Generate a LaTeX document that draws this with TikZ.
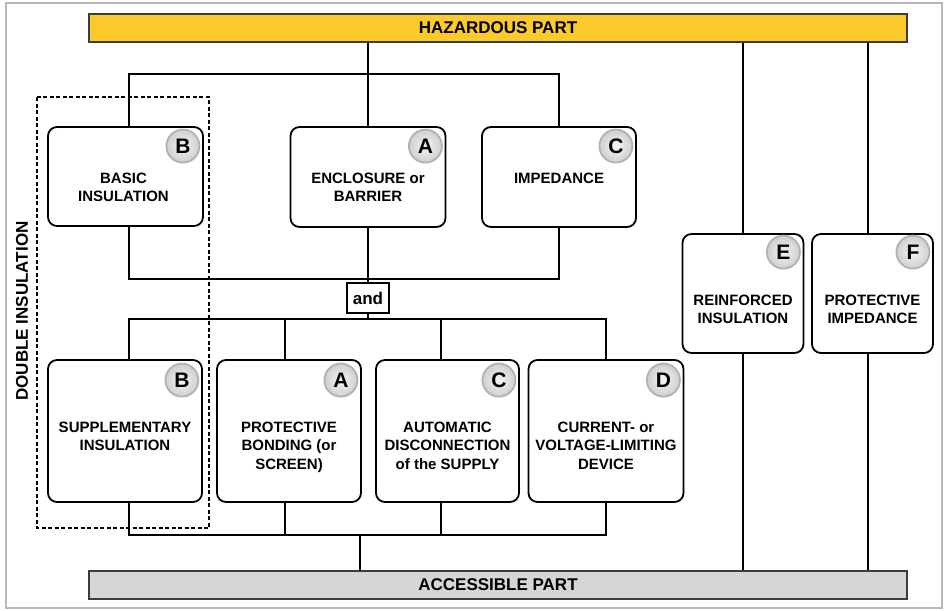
\documentclass[tikz,border=0pt]{standalone}
\usepackage{fontspec}
\setmainfont{Liberation Sans}
\usetikzlibrary{calc}
\definecolor{hazy}{RGB}{252,203,43}
\definecolor{accg}{RGB}{213,215,212}
\definecolor{barline}{RGB}{60,60,60}
\tikzset{
  pbox/.style={draw=black, line width=1.8pt, rounded corners=9pt, fill=white, inner sep=0pt},
  ptext/.style={anchor=north, inner sep=0pt, align=center, font=\bfseries\fontsize{15}{18.5}\selectfont},
  badge/.style={circle, minimum size=33pt, inner sep=0pt, draw=gray!60, line width=1.8pt,
    inner color=gray!8, outer color=gray!38, font=\bfseries\fontsize{21}{21}\selectfont},
  bar/.style={draw=barline, line width=1.3pt, inner sep=0pt, minimum width=818pt, minimum height=28pt,
    font=\bfseries\fontsize{17}{17}\selectfont},
  conn/.style={line width=1.8pt, black},
}
\begin{document}
\begin{tikzpicture}[x=1pt,y=-1pt]
\useasboundingbox (0,0) rectangle (944,610);
\draw[gray!55, line width=1.5pt] (6,3) rectangle (942,608);

% bars
\node[bar, fill=hazy] (haz) at (498,28) {HAZARDOUS PART};
\node[bar, fill=accg] (acc) at (498,585) {ACCESSIBLE PART};

% dashed double insulation frame
\draw[line width=1.8pt, dash pattern=on 4pt off 2.5pt] (37,97) rectangle (209,528);
\node[rotate=90, inner sep=0pt, font=\bfseries\fontsize{17}{17}\selectfont] (dbl) at (22,311) {DOUBLE INSULATION};

% top row boxes
\node[pbox, minimum width=155pt, minimum height=99pt] (basic) at (125.5,176.5) {};
\node[pbox, minimum width=155pt, minimum height=100pt] (enc) at (368,177) {};
\node[pbox, minimum width=154pt, minimum height=100pt] (imp) at (559,177) {};
% right boxes
\node[pbox, minimum width=121pt, minimum height=119pt] (rein) at (743,293.5) {};
\node[pbox, minimum width=121pt, minimum height=119pt] (pimp) at (872.5,293.5) {};
% lower row
\node[pbox, minimum width=154pt, minimum height=142pt] (supp) at (125,431) {};
\node[pbox, minimum width=144pt, minimum height=142pt] (prot) at (289,431) {};
\node[pbox, minimum width=143pt, minimum height=142pt] (auto) at (447.5,431) {};
\node[pbox, minimum width=155pt, minimum height=142pt] (dev) at (606,431) {};

% and box
\node[draw=black, line width=1.8pt, fill=white, minimum width=42pt, minimum height=30pt, inner sep=0pt,
  font=\bfseries\fontsize{17}{17}\selectfont] (and) at (368,298) {and};

% texts
\node[ptext] (tbasic) at ($(basic.north)+(-2,46.5)$) {BASIC\\INSULATION};
\node[ptext] (tenc) at ($(enc.north)+(0,46.5)$) {ENCLOSURE or\\BARRIER};
\node[ptext] (timp) at ($(imp.north)+(0,46.5)$) {IMPEDANCE};
\node[ptext] (trein) at ($(rein.north)+(0,61.5)$) {REINFORCED\\INSULATION};
\node[ptext] (tpimp) at ($(pimp.north)+(0,61.5)$) {PROTECTIVE\\IMPEDANCE};
\node[ptext] (tsupp) at ($(supp.north)+(0,62.5)$) {SUPPLEMENTARY\\INSULATION};
\node[ptext] (tprot) at ($(prot.north)+(0,62.5)$) {PROTECTIVE\\BONDING (or\\SCREEN)};
\node[ptext] (tauto) at ($(auto.north)+(0,62.5)$) {AUTOMATIC\\DISCONNECTION\\of the SUPPLY};
\node[ptext] (tdev) at ($(dev.north)+(0,62.5)$) {CURRENT- or\\VOLTAGE-LIMITING\\DEVICE};

% badges
\node[badge] (bbasic) at ($(basic.north east)+(-21,20)$) {B};
\node[badge] (benc) at ($(enc.north east)+(-21,20)$) {A};
\node[badge] (bimp) at ($(imp.north east)+(-21,20)$) {C};
\node[badge] (brein) at ($(rein.north east)+(-21,19)$) {E};
\node[badge] (bpimp) at ($(pimp.north east)+(-21,19)$) {F};
\node[badge] (bsupp) at ($(supp.north east)+(-21,21)$) {B};
\node[badge] (bprot) at ($(prot.north east)+(-21,21)$) {A};
\node[badge] (bauto) at ($(auto.north east)+(-21,21)$) {C};
\node[badge] (bdev) at ($(dev.north east)+(-21,21)$) {D};

% junction coordinates
\coordinate (jt) at (129,74);
\coordinate (jm) at (129,279);
\coordinate (jl) at (129,319);
\coordinate (jb) at (129,535);
\coordinate (xb) at (285,0);
\coordinate (xc) at (441,0);
\coordinate (xa) at (360,0);
\coordinate (xf) at (868,0);

% connectors top
\draw[conn] (haz.south -| enc.north) -- (enc.north);
\draw[conn] (basic.north -| jt) -- (jt) -- (jt -| imp.north) -- (imp.north);
\draw[conn] (basic.south -| jm) -- (jm) -- (jm -| imp.south) -- (imp.south);
\draw[conn] (enc.south) -- (enc.south |- and.north);
\draw[conn] (and.south) -- (and.south |- jl);
\draw[conn] (supp.north -| jl) -- (jl) -- (jl -| dev.north) -- (dev.north);
\draw[conn] (prot.north -| xb) -- (xb |- jl);
\draw[conn] (auto.north -| xc) -- (xc |- jl);
% connectors bottom
\draw[conn] (supp.south -| jb) -- (jb) -- (jb -| dev.south) -- (dev.south);
\draw[conn] (prot.south -| xb) -- (xb |- jb);
\draw[conn] (auto.south -| xc) -- (xc |- jb);
\draw[conn] (jb -| xa) -- (acc.north -| xa);
% right columns
\draw[conn] (haz.south -| rein.north) -- (rein.north);
\draw[conn] (rein.south) -- (acc.north -| rein.south);
\draw[conn] (haz.south -| xf) -- (pimp.north -| xf);
\draw[conn] (pimp.south -| xf) -- (acc.north -| xf);
\end{tikzpicture}
\end{document}
